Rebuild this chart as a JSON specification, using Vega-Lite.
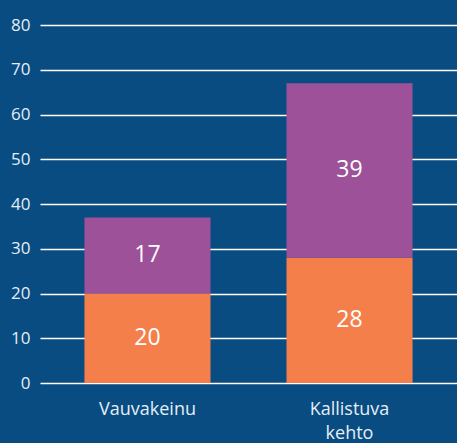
{
  "$schema": "https://vega.github.io/schema/vega-lite/v6.json",
  "width": 457,
  "height": 443,
  "autosize": {"type": "fit", "contains": "padding"},
  "padding": {"left": 0, "top": 16, "right": 0, "bottom": 0},
  "background": "#084c82",
  "config": {"view": {"stroke": null}, "font": "Open Sans"},
  "data": {
    "values": [
      {"cat": "Vauvakeinu", "series": "bottom", "value": 20},
      {"cat": "Vauvakeinu", "series": "top", "value": 17},
      {"cat": "Kallistuva kehto", "series": "bottom", "value": 28},
      {"cat": "Kallistuva kehto", "series": "top", "value": 39}
    ]
  },
  "transform": [
    {"stack": "value", "groupby": ["cat"], "sort": [{"field": "series", "order": "ascending"}], "as": ["v0", "v1"]},
    {"calculate": "(datum.v0 + datum.v1) / 2", "as": "mid"}
  ],
  "encoding": {
    "x": {
      "field": "cat",
      "type": "nominal",
      "sort": null,
      "scale": {"paddingInner": 0.376, "paddingOuter": 0.22},
      "axis": {
        "title": null,
        "domain": false,
        "ticks": false,
        "labelAngle": 0,
        "labelPadding": 17,
        "labelFontSize": 18,
        "labelColor": "#e6edf5",
        "labelLineHeight": 24,
        "labelExpr": "split(datum.label, ' ')",
        "minExtent": 60,
        "maxExtent": 60
      }
    }
  },
  "layer": [
    {
      "mark": {"type": "bar"},
      "encoding": {
        "y": {
          "field": "v0",
          "type": "quantitative",
          "scale": {"domain": [0, 80]},
          "axis": {
            "title": null,
            "values": [0, 10, 20, 30, 40, 50, 60, 70, 80],
            "domain": false,
            "ticks": false,
            "grid": true,
            "gridColor": "#ffffff",
            "gridWidth": 1.5,
            "labelPadding": 10,
            "labelFontSize": 17,
            "labelColor": "#e6edf5",
            "minExtent": 40,
            "maxExtent": 40
          }
        },
        "y2": {"field": "v1"},
        "color": {
          "field": "series",
          "type": "nominal",
          "scale": {"domain": ["bottom", "top"], "range": ["#f47f4a", "#9c5199"]},
          "legend": null
        }
      }
    },
    {
      "mark": {"type": "text", "color": "#ffffff", "fontSize": 23},
      "encoding": {
        "y": {"field": "mid", "type": "quantitative"},
        "text": {"field": "value", "type": "quantitative"}
      }
    }
  ]
}
